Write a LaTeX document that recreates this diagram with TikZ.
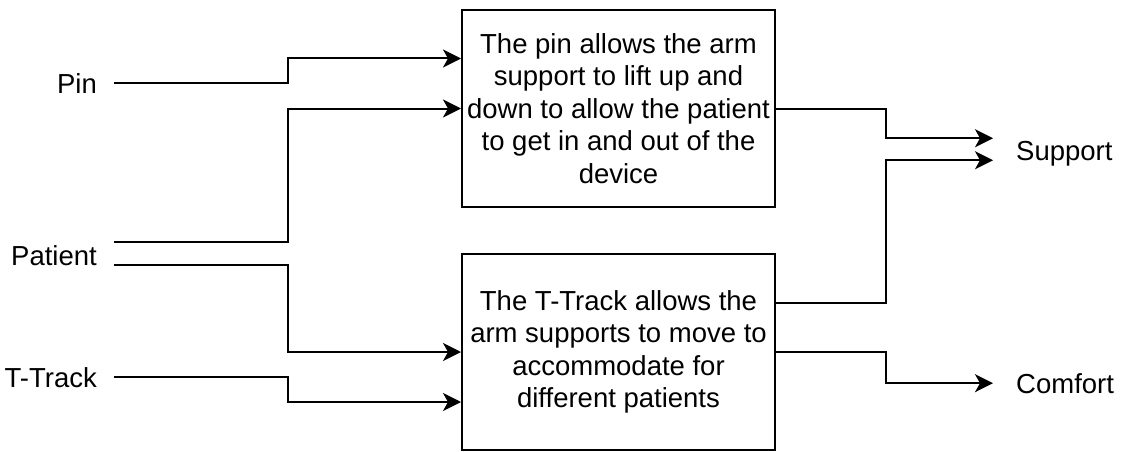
\documentclass[tikz,border=0pt]{standalone}
\usepackage{fontspec}
\setmainfont{Liberation Sans}
\usetikzlibrary{positioning,arrows.meta}

\tikzset{
	txt/.style={font=\fontsize{27.5}{32.5}\selectfont},
	block/.style={txt, draw, line width=2pt, rectangle, align=center,
		minimum width=313pt, minimum height=196pt, inner sep=0pt},
	inlbl/.style={txt, anchor=base east, inner xsep=17pt, inner ysep=0pt},
	outlbl/.style={txt, anchor=base west, inner xsep=23pt, inner ysep=0pt},
	flow/.style={line width=2pt, -{Stealth[length=18pt, width=18pt, inset=5pt]}},
	link/.style={line width=2pt}
}

\begin{document}
\begin{tikzpicture}[x=1pt, y=-1pt]
			\useasboundingbox (0,0) rectangle (1121,452);

			% function blocks
			\node[block] (pinbox) at (618.5,108.5) {The pin allows the arm\\support to lift up and\\down to allow the patient\\to get in and out of the\\device};
			\node[block] (trackbox) at (618.5,352) {The T-Track allows the\\arm supports to move to\\accommodate for\\different patients};

			% inputs
			\node[inlbl] (pin) at (114,93) {Pin};
			\node[inlbl] (patient) at (114,265) {Patient};
			\node[inlbl] (ttrack) at (114,387) {T-Track};

			% outputs
			\node[outlbl] (support) at (993,160) {Support};
			\node[outlbl] (comfort) at (993,393) {Comfort};

			% input flows
			\draw[flow] (pin.east) -- ++(174,0) |- ([yshift=50pt]pinbox.west);
			\draw[flow] ([yshift=13pt]patient.east) -- ++(174,0) |- (pinbox.west);
			\draw[flow] ([yshift=-10pt]patient.east) -- ++(174,0) |- (trackbox.west);
			\draw[flow] (ttrack.east) -- ++(174,0) |- ([yshift=-50pt]trackbox.west);

			% output flows
			\draw[flow] (pinbox.east) -- ++(110,0) |- ([yshift=15pt]support.west);
			\draw[flow] ([yshift=49pt]trackbox.east) -- ++(110,0) |- ([yshift=-7pt]support.west);
			\draw[flow] (trackbox.east) -- ++(110,0) |- (comfort.west);

		\end{tikzpicture}
\end{document}
